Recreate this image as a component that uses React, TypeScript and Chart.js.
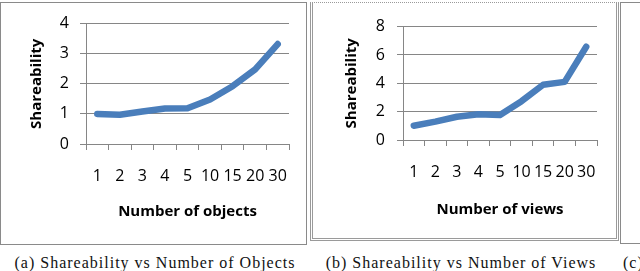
import React, { useEffect, useRef } from "react";
import { Chart, registerables } from "chart.js";

Chart.register(...registerables);

// ---- data ----
const categories = ["1", "2", "3", "4", "5", "10", "15", "20", "30"];
const objectsValues = [1.0, 0.97, 1.08, 1.18, 1.19, 1.48, 1.92, 2.48, 3.32];
const viewsValues = [1.01, 1.3, 1.64, 1.82, 1.76, 2.74, 3.9, 4.1, 6.58];
const objectsYTicks = [0, 1, 2, 3, 4];
const viewsYTicks = [0, 2, 4, 6, 8];
const yTitle = "Shareability";
const objectsXTitle = "Number of objects";
const viewsXTitle = "Number of views";
const captionA = "(a) Shareability vs Number of Objects";
const captionB = "(b) Shareability vs Number of Views";
const captionC = "(c)";

const BLUE = "#4a7ebb";
const GRID = "#868686";
const FONT = "'Open Sans', 'DejaVu Sans', sans-serif";
const SERIF = "'Liberation Serif', 'DejaVu Serif', serif";

type Geo = {
  x: number;
  y: number;
  w: number;
  h: number;
  left: number;
  top: number;
  right: number;
  bottom: number;
  yTitlePad: number;
  yTickPad: number;
  xTickPad: number;
  xTitlePad: number;
};

function LineChart(props: {
  values: number[];
  yTicks: number[];
  xTitle: string;
  geo: Geo;
}) {
  const ref = useRef<HTMLCanvasElement>(null);
  const { values, yTicks, xTitle, geo } = props;
  useEffect(() => {
    const yMax = yTicks[yTicks.length - 1];
    const yStep = yTicks[1] - yTicks[0];
    const chart = new Chart(ref.current as HTMLCanvasElement, {
      type: "line",
      data: {
        labels: categories,
        datasets: [
          {
            data: values,
            borderColor: BLUE,
            backgroundColor: BLUE,
            borderWidth: 6.5,
            pointRadius: 0,
            tension: 0,
            borderCapStyle: "round",
            borderJoinStyle: "round",
            fill: false,
          },
        ],
      },
      options: {
        animation: false,
        responsive: false,
        devicePixelRatio: 1,
        events: [],
        layout: {
          autoPadding: false,
          padding: { left: 0, top: geo.top, right: geo.w - geo.right, bottom: 0 },
        },
        plugins: { legend: { display: false }, tooltip: { enabled: false } },
        scales: {
          x: {
            type: "category",
            offset: true,
            grid: {
              display: true,
              drawOnChartArea: false,
              drawTicks: true,
              tickLength: 6,
              color: GRID,
              offset: true,
            },
            border: { display: true, color: GRID, width: 1 },
            ticks: {
              autoSkip: false,
              maxRotation: 0,
              minRotation: 0,
              padding: geo.xTickPad,
              color: "#000",
              font: { family: FONT, size: 16 },
            },
            title: {
              display: true,
              text: xTitle,
              color: "#000",
              font: { family: FONT, size: 15, weight: "bold" },
              padding: { top: 0, bottom: geo.xTitlePad },
            },
            afterFit: (s: any) => {
              s.height = geo.h - geo.bottom;
            },
          },
          y: {
            min: 0,
            max: yMax,
            ticks: {
              stepSize: yStep,
              padding: geo.yTickPad,
              color: "#000",
              font: { family: FONT, size: 16 },
            },
            grid: { color: GRID, tickLength: 6, drawTicks: true },
            border: { display: true, color: GRID, width: 1 },
            title: {
              display: true,
              text: yTitle,
              color: "#000",
              font: { family: FONT, size: 15, weight: "bold" },
              padding: { top: geo.yTitlePad, bottom: 0 },
            },
            afterFit: (s: any) => {
              s.width = geo.left;
            },
          },
        },
      },
    } as any);
    return () => chart.destroy();
  }, []);
  return (
    <canvas
      ref={ref}
      width={geo.w}
      height={geo.h}
      style={{
        position: "absolute",
        left: geo.x,
        top: geo.y,
        width: geo.w,
        height: geo.h,
      }}
    />
  );
}

const geoA: Geo = {
  x: 1,
  y: 3,
  w: 305,
  h: 240,
  left: 85,
  top: 20,
  right: 288,
  bottom: 141,
  yTitlePad: 27,
  yTickPad: 11,
  xTickPad: 17,
  xTitlePad: 22,
};

const geoB: Geo = {
  x: 313,
  y: 5,
  w: 303,
  h: 236,
  left: 90,
  top: 19,
  right: 284,
  bottom: 135,
  yTitlePad: 30,
  yTickPad: 12,
  xTickPad: 17,
  xTitlePad: 22,
};

function Caption(props: { text: string; cx?: number; left?: number }) {
  const style: React.CSSProperties = {
    position: "absolute",
    top: 255,
    fontFamily: SERIF,
    fontSize: 16,
    lineHeight: "16px",
    letterSpacing: "1px",
    whiteSpace: "nowrap",
    color: "#111",
  };
  if (props.cx !== undefined) {
    style.left = props.cx;
    style.transform = "translateX(-50%)";
  } else {
    style.left = props.left;
  }
  return <div style={style}>{props.text}</div>;
}

export default function App() {
  return (
    <div
      style={{
        position: "fixed",
        left: 0,
        top: 0,
        width: 640,
        height: 271,
        background: "#fff",
        overflow: "hidden",
      }}
    >
      <div
        style={{
          position: "absolute",
          left: 0,
          top: 2,
          width: 305,
          height: 241,
          border: "1px solid #8a8a8a",
        }}
      />
      <div
        style={{
          position: "absolute",
          left: 310,
          top: 2,
          width: 303,
          height: 235,
          border: "3px double #9a9a9a",
          borderTop: "1px dotted #9a9a9a",
        }}
      />
      <div
        style={{
          position: "absolute",
          left: 620,
          top: 2,
          width: 40,
          height: 240,
          borderLeft: "1px solid #8a8a8a",
          borderTop: "1px solid #8a8a8a",
          borderBottom: "1px solid #8a8a8a",
        }}
      />
      <LineChart values={objectsValues} yTicks={objectsYTicks} xTitle={objectsXTitle} geo={geoA} />
      <LineChart values={viewsValues} yTicks={viewsYTicks} xTitle={viewsXTitle} geo={geoB} />
      <Caption text={captionA} cx={155} />
      <Caption text={captionB} cx={461} />
      <Caption text={captionC} left={623} />
    </div>
  );
}
